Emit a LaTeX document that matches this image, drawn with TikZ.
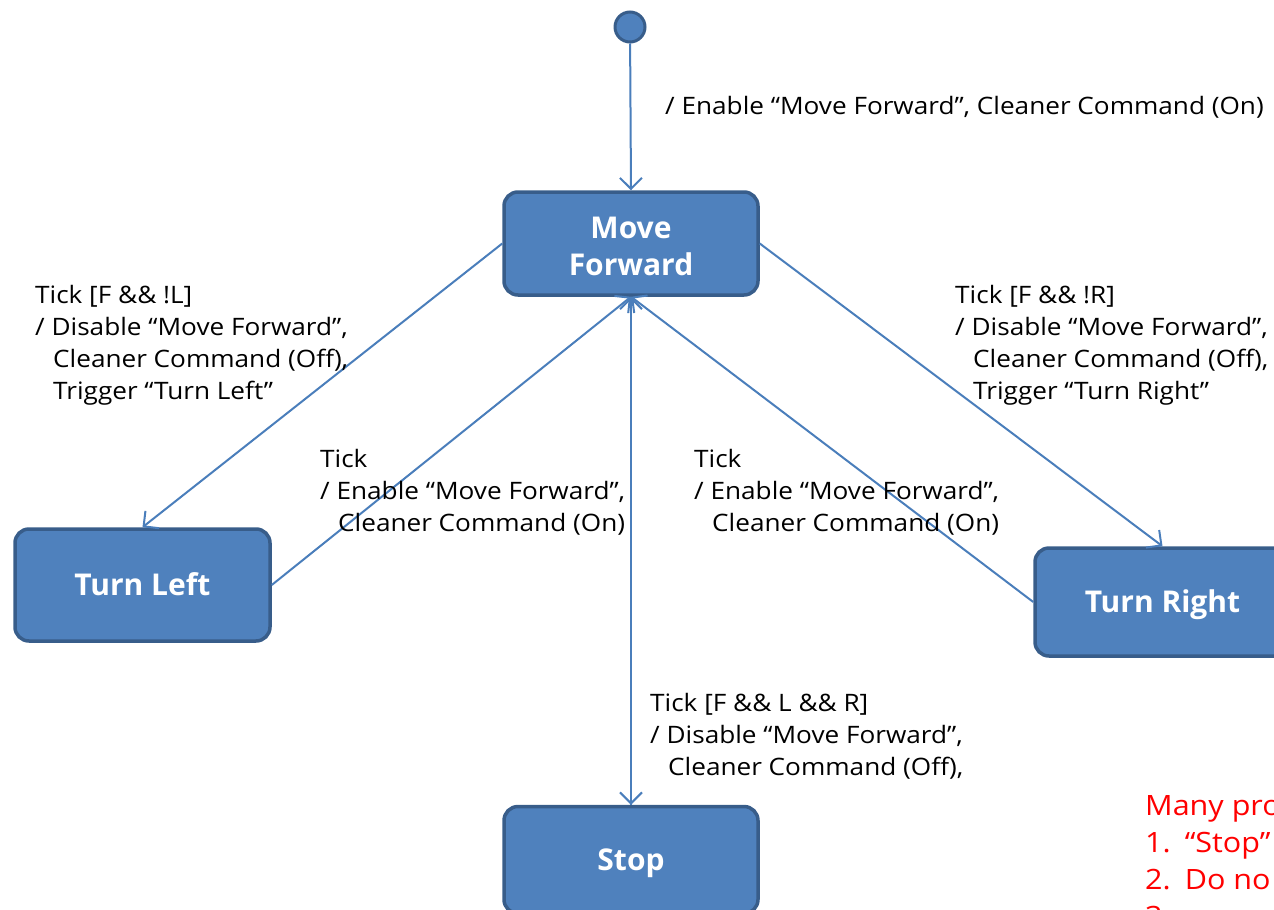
\documentclass[tikz,border=0pt]{standalone}
\usepackage{fontspec}
\setmainfont{Open Sans}
\newfontfamily\lblfont[FakeStretch=1.09]{Open Sans}
\usetikzlibrary{arrows.meta}
\definecolor{boxfill}{HTML}{4F81BD}
\definecolor{boxline}{HTML}{385D8A}
\definecolor{wire}{HTML}{4A7EBB}
\definecolor{notered}{HTML}{FF0000}
\newcommand{\lowertxt}[1]{\raisebox{-3pt}[\height][\depth]{#1}}
\begin{document}
\begin{tikzpicture}[x=1pt,y=-1pt,
  statebox/.style={rectangle, rounded corners=14pt, fill=boxfill, draw=boxline,
    line width=3.5pt, text=white, align=center,
    font=\bfseries\fontsize{30}{37}\selectfont},
  oneline/.style={text height=21.5pt, text depth=0pt},
  initdot/.style={circle, fill=boxfill, draw=boxline, line width=3pt,
    minimum size=30pt, inner sep=0pt},
  trans/.style={draw=wire, line width=2pt,
    -{Straight Barb[length=11pt,width=22pt,line width=2pt]}},
  lbl/.style={anchor=west, align=left, inner sep=0pt,
    font=\lblfont\fontsize{24}{32}\selectfont},
  note/.style={anchor=north west, align=left, inner sep=0pt, text=notered,
    font=\lblfont\fontsize{28}{37}\selectfont}
]
\useasboundingbox (0,0) rectangle (1274,910);
\clip (0,0) rectangle (1274,910);

\node[initdot] (init) at (630,27) {};
\node[statebox, minimum width=254pt, minimum height=103pt] (mf) at (631,243.5) {\lowertxt{Move}\\\lowertxt{Forward}};
\node[statebox, oneline, minimum width=255pt, minimum height=112pt] (tl) at (142.5,585) {Turn Left};
\node[statebox, oneline, minimum width=255pt, minimum height=108pt] (tr) at (1162.5,602) {Turn Right};
\node[statebox, oneline, minimum width=254pt, minimum height=107pt] (stop) at (631,860) {Stop};

\draw[trans] (init) -- (mf.north);
\draw[trans] (mf.west) -- (tl.north);
\draw[trans] (tl.east) -- (mf.south);
\draw[trans] (mf.east) -- (tr.north);
\draw[trans] (tr.west) -- (mf.south);
\draw[trans] (mf.south) -- (stop.north);
\draw[trans] (stop.north) -- (mf.south);

\node[lbl] (l0) at (665,107) {/ Enable “Move Forward”, Cleaner Command (On)};
\node[lbl] (l1) at (35,345) {Tick [F \&\& !L]\\/ Disable “Move Forward”,\\\hspace*{18pt}Cleaner Command (Off),\\\hspace*{18pt}Trigger “Turn Left”};
\node[lbl] (l2) at (955,345) {Tick [F \&\& !R]\\/ Disable “Move Forward”,\\\hspace*{18pt}Cleaner Command (Off),\\\hspace*{18pt}Trigger “Turn Right”};
\node[lbl] (l3) at (320,492) {Tick\\/ Enable “Move Forward”,\\\hspace*{18pt}Cleaner Command (On)};
\node[lbl] (l4) at (694,492) {Tick\\/ Enable “Move Forward”,\\\hspace*{18pt}Cleaner Command (On)};
\node[lbl] (l5) at (650,736) {Tick [F \&\& L \&\& R]\\/ Disable “Move Forward”,\\\hspace*{18pt}Cleaner Command (Off),};
\node[note] (n1) at (1145,795) {Many pro\\1.\hspace*{14pt}“Stop”\\2.\hspace*{14pt}Do no\\3.};
\end{tikzpicture}
\end{document}
